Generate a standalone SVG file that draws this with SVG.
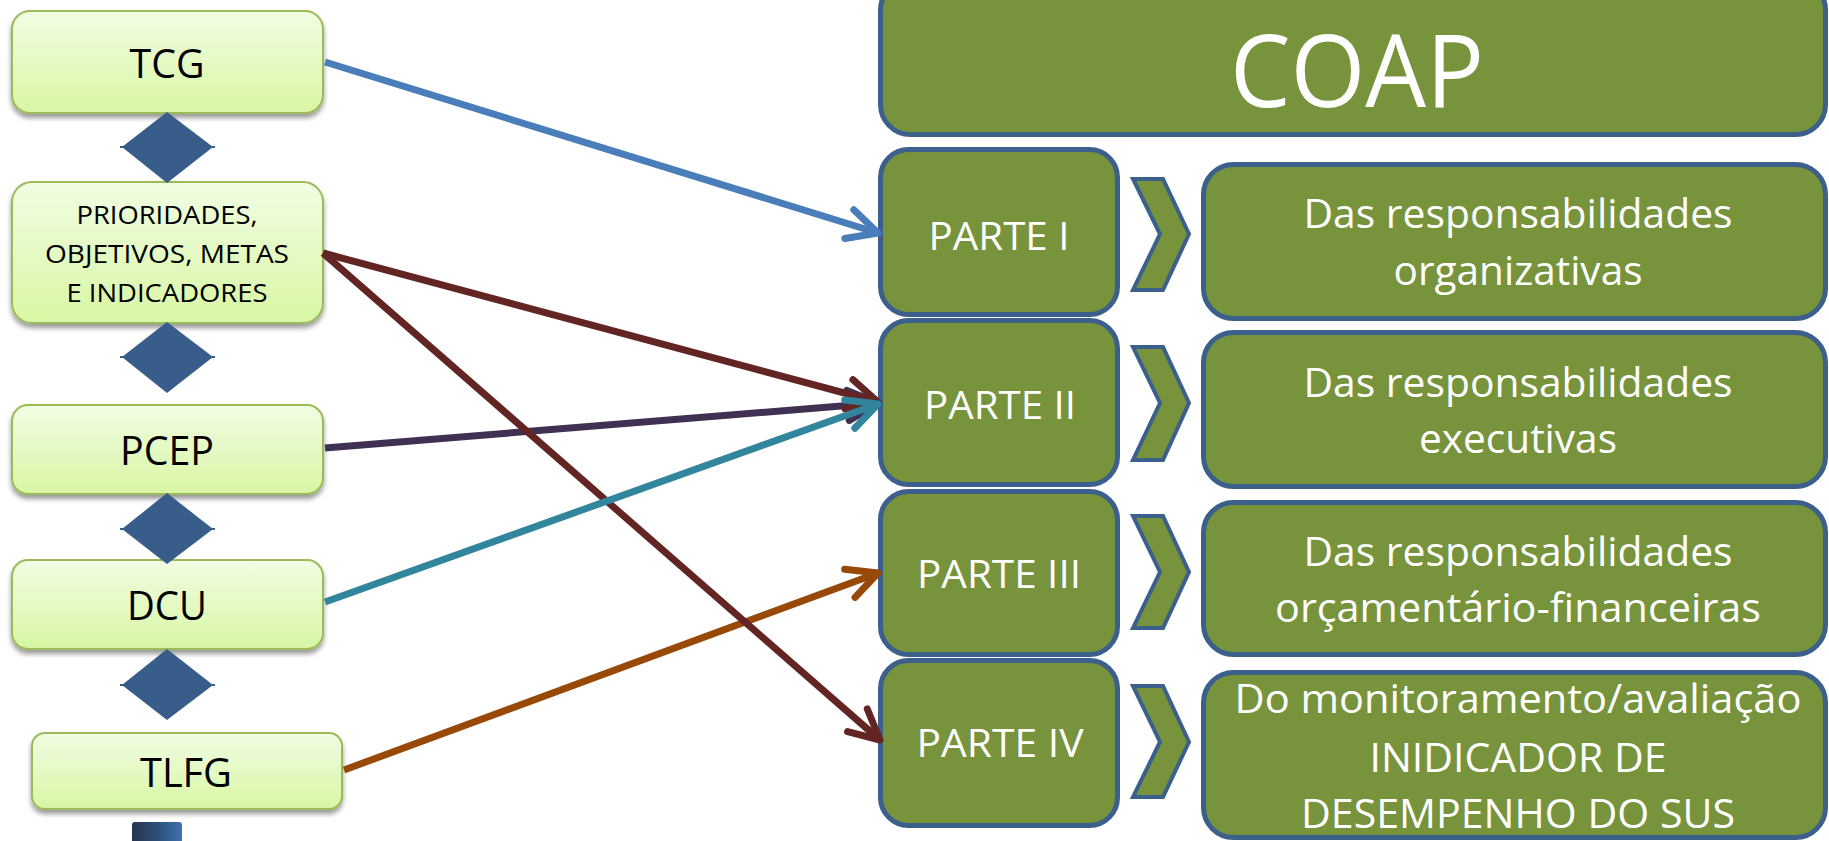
<svg xmlns="http://www.w3.org/2000/svg" width="1829" height="841" viewBox="0 0 1829 841">
<style>
.lbox{fill:url(#lg);stroke:#9BBB59;stroke-width:2;filter:url(#sh)}
.ltxt{font-family:"Open Sans","Liberation Sans",sans-serif;fill:#000;text-anchor:middle}
.dia{fill:#385D8A}
.gbox{fill:#77933C;stroke:#3C5F8C;stroke-width:5}
.chev{fill:#77933C;stroke:#3C5F8C;stroke-width:4;stroke-linejoin:miter}
.wtxt{font-family:"Open Sans","Liberation Sans",sans-serif;fill:#fff;text-anchor:middle}
.con{fill:none;stroke-width:7;stroke-linecap:butt}
.ah{fill:none;stroke-width:7;stroke-linecap:round;stroke-linejoin:round}
</style>
<defs>
<linearGradient id="lg" x1="0" y1="0" x2="0" y2="1">
<stop offset="0" stop-color="#F1FDE3"/>
<stop offset="1" stop-color="#D8F6A4"/>
</linearGradient>
<linearGradient id="bg" x1="0" y1="0" x2="1" y2="0">
<stop offset="0" stop-color="#24354F"/>
<stop offset="0.6" stop-color="#2F5581"/>
<stop offset="1" stop-color="#3E74AD"/>
</linearGradient>
<filter id="sh" x="-5%" y="-10%" width="110%" height="130%">
<feDropShadow dx="0" dy="4" stdDeviation="2.5" flood-color="#000" flood-opacity="0.4"/>
</filter>
<marker id="mBlue" markerUnits="userSpaceOnUse" viewBox="-40 -20 50 40" refX="0" refY="0" markerWidth="50" markerHeight="40" orient="auto" overflow="visible"><path class="ah" d="M-30,-15 L0,0 L-30,15" stroke="#4A7EBB"/></marker>
<marker id="mBrown" markerUnits="userSpaceOnUse" viewBox="-40 -20 50 40" refX="0" refY="0" markerWidth="50" markerHeight="40" orient="auto" overflow="visible"><path class="ah" d="M-30,-15 L0,0 L-30,15" stroke="#632523"/></marker>
<marker id="mPurple" markerUnits="userSpaceOnUse" viewBox="-40 -20 50 40" refX="0" refY="0" markerWidth="50" markerHeight="40" orient="auto" overflow="visible"><path class="ah" d="M-30,-15 L0,0 L-30,15" stroke="#403152"/></marker>
<marker id="mTeal" markerUnits="userSpaceOnUse" viewBox="-40 -20 50 40" refX="0" refY="0" markerWidth="50" markerHeight="40" orient="auto" overflow="visible"><path class="ah" d="M-30,-15 L0,0 L-30,15" stroke="#31859C"/></marker>
<marker id="mOrange" markerUnits="userSpaceOnUse" viewBox="-40 -20 50 40" refX="0" refY="0" markerWidth="50" markerHeight="40" orient="auto" overflow="visible"><path class="ah" d="M-30,-15 L0,0 L-30,15" stroke="#984807"/></marker>
</defs>
<rect width="1829" height="841" fill="#fff"/>

<g id="tcg"><rect class="lbox" x="12" y="11" width="311" height="102" rx="18"/><text class="ltxt" x="167" y="78" font-size="41" textLength="75" lengthAdjust="spacingAndGlyphs">TCG</text></g>
<g id="prioridades"><rect class="lbox" x="12" y="182" width="311" height="141" rx="20"/>
<text class="ltxt" x="167" y="224" font-size="26" textLength="181" lengthAdjust="spacingAndGlyphs">PRIORIDADES,</text>
<text class="ltxt" x="167" y="263" font-size="26" textLength="244" lengthAdjust="spacingAndGlyphs">OBJETIVOS, METAS</text>
<text class="ltxt" x="167" y="302" font-size="26" textLength="201" lengthAdjust="spacingAndGlyphs">E INDICADORES</text></g>
<g id="pcep"><rect class="lbox" x="12" y="405" width="311" height="89" rx="16"/><text class="ltxt" x="167" y="465" font-size="41" textLength="94" lengthAdjust="spacingAndGlyphs">PCEP</text></g>
<g id="dcu"><rect class="lbox" x="12" y="560" width="311" height="89" rx="16"/><text class="ltxt" x="167" y="620" font-size="41" textLength="80" lengthAdjust="spacingAndGlyphs">DCU</text></g>
<g id="tlfg"><rect class="lbox" x="32" y="733" width="310" height="76" rx="13"/><text class="ltxt" x="186" y="787" font-size="41" textLength="92" lengthAdjust="spacingAndGlyphs">TLFG</text></g>

<g id="diamonds">
<polygon class="dia" points="167,112 213,147 167,183 122,147"/><rect class="dia" x="120" y="146" width="95" height="2"/>
<polygon class="dia" points="167,322 213,357 167,393 122,357"/><rect class="dia" x="120" y="356" width="95" height="2"/>
<polygon class="dia" points="167,493 213,529 167,564 122,529"/><rect class="dia" x="120" y="528" width="95" height="2"/>
<polygon class="dia" points="167,649 213,685 167,720 122,685"/><rect class="dia" x="120" y="684" width="95" height="2"/>
</g>

<rect id="bottom-bar" x="132" y="822" width="50" height="25" rx="3" fill="url(#bg)"/>

<g id="coap"><rect class="gbox" x="880.5" y="-20" width="945" height="154.5" rx="30"/><text class="wtxt" x="1357" y="107" font-size="100" textLength="254" lengthAdjust="spacingAndGlyphs">COAP</text></g>

<g id="parte1"><rect class="gbox" x="880.5" y="149.5" width="237" height="165" rx="28"/><text class="wtxt" x="999" y="250" font-size="39" textLength="141" lengthAdjust="spacingAndGlyphs">PARTE I</text></g>
<g id="parte2"><rect class="gbox" x="880.5" y="320.5" width="237" height="164" rx="28"/><text class="wtxt" x="1000" y="419" font-size="39" textLength="152" lengthAdjust="spacingAndGlyphs">PARTE II</text></g>
<g id="parte3"><rect class="gbox" x="880.5" y="491.5" width="237" height="163" rx="28"/><text class="wtxt" x="999" y="588" font-size="39" textLength="164" lengthAdjust="spacingAndGlyphs">PARTE III</text></g>
<g id="parte4"><rect class="gbox" x="880.5" y="660.5" width="237" height="165" rx="28"/><text class="wtxt" x="1000" y="757" font-size="39" textLength="167" lengthAdjust="spacingAndGlyphs">PARTE IV</text></g>

<g id="chevrons">
<path class="chev" d="M1133,179 L1163,179 L1189,234 L1163,290 L1133,290 L1160,234 Z"/>
<path class="chev" d="M1133,347 L1163,347 L1189,403 L1163,460 L1133,460 L1160,403 Z"/>
<path class="chev" d="M1133,516 L1163,516 L1189,572 L1163,628 L1133,628 L1160,572 Z"/>
<path class="chev" d="M1133,686 L1163,686 L1189,742 L1163,797 L1133,797 L1160,742 Z"/>
</g>

<g id="desc1"><rect class="gbox" x="1203.5" y="164.5" width="622" height="154" rx="30"/>
<text class="wtxt" x="1518" y="228" font-size="40" textLength="429" lengthAdjust="spacingAndGlyphs">Das responsabilidades</text>
<text class="wtxt" x="1518" y="285" font-size="40" textLength="249" lengthAdjust="spacingAndGlyphs">organizativas</text></g>
<g id="desc2"><rect class="gbox" x="1203.5" y="332.5" width="622" height="154" rx="30"/>
<text class="wtxt" x="1518" y="397" font-size="40" textLength="429" lengthAdjust="spacingAndGlyphs">Das responsabilidades</text>
<text class="wtxt" x="1518" y="453" font-size="40" textLength="198" lengthAdjust="spacingAndGlyphs">executivas</text></g>
<g id="desc3"><rect class="gbox" x="1203.5" y="502.5" width="622" height="152" rx="30"/>
<text class="wtxt" x="1518" y="566" font-size="40" textLength="429" lengthAdjust="spacingAndGlyphs">Das responsabilidades</text>
<text class="wtxt" x="1518" y="622" font-size="40" textLength="486" lengthAdjust="spacingAndGlyphs">orçamentário-financeiras</text></g>
<g id="desc4"><rect class="gbox" x="1203.5" y="672.5" width="622" height="165" rx="30"/>
<text class="wtxt" x="1518" y="713" font-size="40" textLength="567" lengthAdjust="spacingAndGlyphs">Do monitoramento/avaliação</text>
<text class="wtxt" x="1518" y="772" font-size="40" textLength="297" lengthAdjust="spacingAndGlyphs">INIDICADOR DE</text>
<text class="wtxt" x="1518" y="828" font-size="40" textLength="434" lengthAdjust="spacingAndGlyphs">DESEMPENHO DO SUS</text></g>

<g id="connectors">
<line class="con" x1="344" y1="770" x2="878" y2="573" stroke="#984807" marker-end="url(#mOrange)"/>
<line class="con" x1="325" y1="448" x2="878" y2="403" stroke="#403152" marker-end="url(#mPurple)"/>
<line class="con" x1="323" y1="253" x2="878" y2="402" stroke="#632523" marker-end="url(#mBrown)"/>
<line class="con" x1="323" y1="253" x2="880" y2="740" stroke="#632523" marker-end="url(#mBrown)"/>
<line class="con" x1="325" y1="602" x2="878" y2="404" stroke="#31859C" marker-end="url(#mTeal)"/>
<line class="con" x1="325" y1="62" x2="878" y2="233" stroke="#4A7EBB" marker-end="url(#mBlue)"/>
</g>
</svg>
